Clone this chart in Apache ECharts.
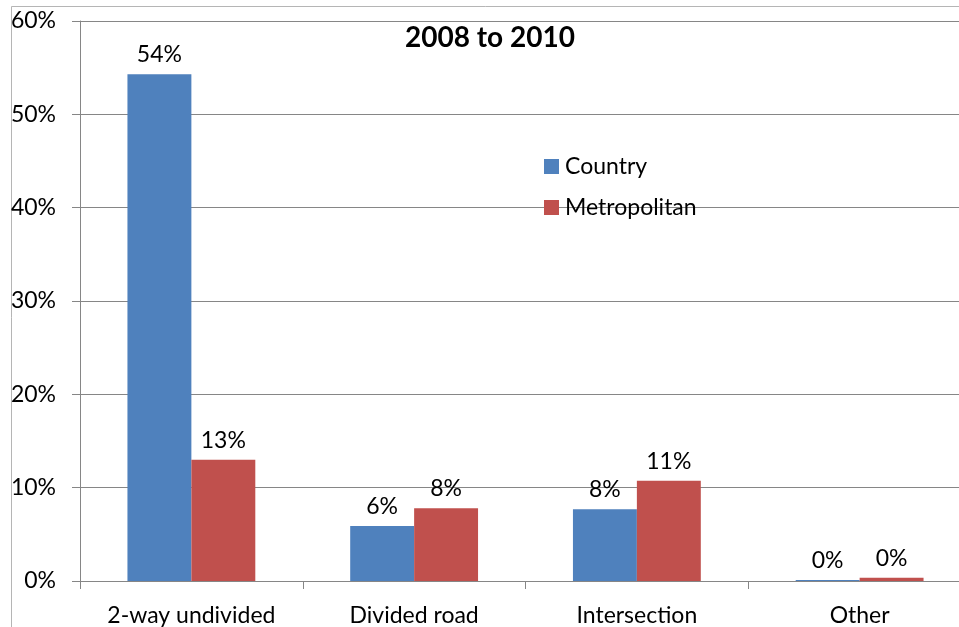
<!DOCTYPE html>
<html>
<head>
<meta charset="utf-8">
<script src="https://cdn.jsdelivr.net/npm/echarts@6/dist/echarts.min.js"></script>
<style>
  html, body { margin: 0; padding: 0; background: #fff; }
  #chart { width: 959px; height: 627px; }
</style>
</head>
<body>
<div id="chart"></div>
<script>
// Share of crashes by road type, 2008 to 2010
const categories = ['2-way undivided', 'Divided road', 'Intersection', 'Other'];
const country = [54.3, 5.9, 7.7, 0.1];
const metropolitan = [13.0, 7.8, 10.75, 0.35];
const yTicks = [0, 10, 20, 30, 40, 50, 60];

const FONT = 'Lato, "Open Sans", sans-serif';
const GRAY = '#868686';

const chart = echarts.init(document.getElementById('chart'), null, { renderer: 'canvas' });

const labelStyle = {
  show: true,
  position: 'top',
  distance: 8,
  color: '#000',
  fontFamily: FONT,
  fontSize: 23,
  formatter: p => Math.round(p.value) + '%'
};

chart.setOption({
  animation: false,
  backgroundColor: '#fff',
  textStyle: { fontFamily: FONT },
  graphic: [{
    type: 'rect',
    left: 9, top: 4,
    shape: { width: 1000, height: 700 },
    style: { fill: 'none', stroke: '#b5b5b5', lineWidth: 1 },
    silent: true,
    z: -1
  }],
  title: {
    text: '2008 to 2010',
    left: 485, top: 19,
    textAlign: 'center',
    textStyle: { fontFamily: FONT, fontWeight: 'bold', fontSize: 28, color: '#000' }
  },
  legend: {
    orient: 'vertical',
    left: 544, top: 155,
    padding: 0,
    itemWidth: 15, itemHeight: 15,
    itemGap: 18,
    icon: 'rect',
    textStyle: { fontFamily: FONT, fontSize: 23, color: '#000', padding: [0, 0, 0, 1] },
    data: ['Country', 'Metropolitan']
  },
  grid: { left: 80, top: 21, width: 891, bottom: 46, containLabel: false, outerBoundsMode: 'none' },
  xAxis: {
    type: 'category',
    data: categories,
    axisLine: { show: true, lineStyle: { color: GRAY, width: 1 } },
    axisTick: { show: true, length: 8, lineStyle: { color: GRAY } },
    axisLabel: { color: '#000', fontFamily: FONT, fontSize: 23, margin: 23 }
  },
  yAxis: {
    type: 'value',
    min: yTicks[0], max: yTicks[yTicks.length - 1], interval: 10,
    axisLine: { show: true, lineStyle: { color: GRAY, width: 1 } },
    axisTick: { show: true, length: 8, lineStyle: { color: GRAY } },
    splitLine: { show: true, lineStyle: { color: GRAY, width: 1 } },
    axisLabel: { color: '#000', fontFamily: FONT, fontSize: 23, margin: 24, formatter: v => v + '%' }
  },
  series: [
    {
      name: 'Country', type: 'bar', data: country,
      barWidth: '28.7%', barGap: '0%',
      itemStyle: { color: '#4F81BD' },
      label: labelStyle
    },
    {
      name: 'Metropolitan', type: 'bar', data: metropolitan,
      barWidth: '28.7%', barGap: '0%',
      itemStyle: { color: '#C0504D' },
      label: labelStyle
    }
  ]
});
</script>
</body>
</html>
